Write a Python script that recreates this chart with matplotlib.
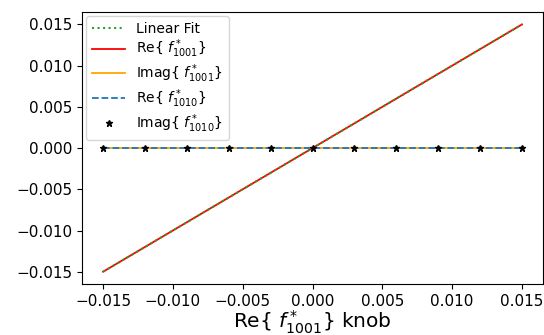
import matplotlib
matplotlib.use('Agg')
import matplotlib.pyplot as plt

# knob values and measured RDT responses
knob = [-0.015, -0.012, -0.009, -0.006, -0.003, 0.0, 0.003, 0.006, 0.009, 0.012, 0.015]
fit = [-0.015, -0.012, -0.009, -0.006, -0.003, 0.0, 0.003, 0.006, 0.009, 0.012, 0.015]
re_f1001 = [-0.015, -0.012, -0.009, -0.006, -0.003, 0.0, 0.003, 0.006, 0.009, 0.012, 0.015]
im_f1001 = [0.0, 0.0, 0.0, 0.0, 0.0, 0.0, 0.0, 0.0, 0.0, 0.0, 0.0]
re_f1010 = [0.0, 0.0, 0.0, 0.0, 0.0, 0.0, 0.0, 0.0, 0.0, 0.0, 0.0]
im_f1010 = [0.0, 0.0, 0.0, 0.0, 0.0, 0.0, 0.0, 0.0, 0.0, 0.0, 0.0]

fig = plt.figure(figsize=(5.44, 3.35), dpi=100)
ax = fig.add_axes([0.151, 0.152, 0.847, 0.812])

ax.plot(knob, re_f1001, '-', color='red', lw=1.3, label=r'Re{ $f^*_{1001}$}')
ax.plot(knob, fit, ':', color='tab:green', lw=1.5, label='Linear Fit')
ax.plot(knob, im_f1001, '-', color='orange', lw=1.3, label=r'Imag{ $f^*_{1001}$}')
ax.plot(knob, re_f1010, '--', color='tab:blue', lw=1.3, label=r'Re{ $f^*_{1010}$}')
ax.plot(knob, im_f1010, '*', color='black', ms=5, label=r'Imag{ $f^*_{1010}$}')

ax.set_xlim(-0.0165, 0.0165)
ax.set_ylim(-0.0165, 0.0165)
ax.set_xticks([-0.015, -0.01, -0.005, 0, 0.005, 0.01, 0.015])
ax.set_yticks([-0.015, -0.01, -0.005, 0, 0.005, 0.01, 0.015])
ax.tick_params(labelsize=11)
ax.set_xlabel(r'Re{ $f^*_{1001}$} knob', fontsize=14.5, labelpad=0)

h, l = ax.get_legend_handles_labels()
order = [1, 0, 2, 3, 4]
ax.legend([h[i] for i in order], [l[i] for i in order], loc='upper left',
          fontsize=10, handlelength=2.4, labelspacing=0.15, borderaxespad=0.3)

fig.savefig('out.png', dpi=100)
